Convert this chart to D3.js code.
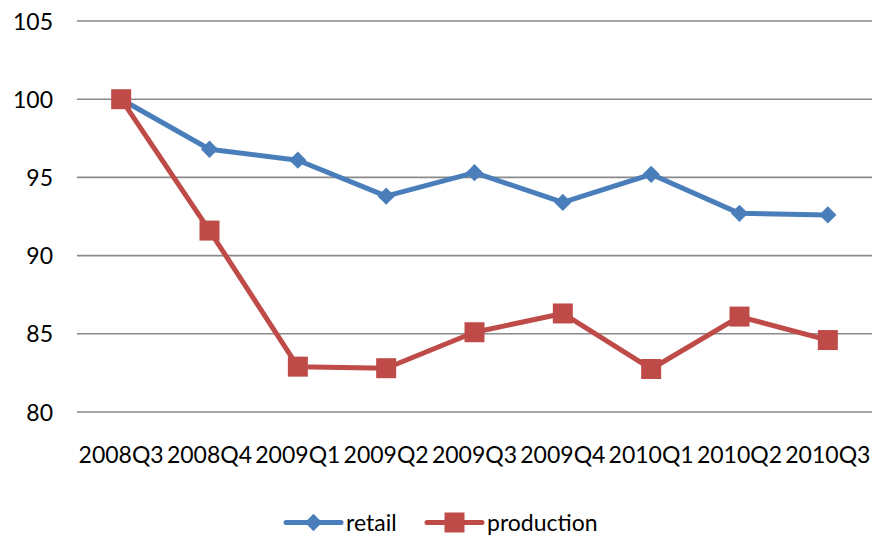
<!DOCTYPE html>
<html><head><meta charset="utf-8">
<script src="https://cdn.jsdelivr.net/npm/d3@7"></script>
<style>
body{margin:0;background:#fff;}
text{font-family:Lato,"Open Sans",sans-serif;fill:#000;}
</style></head>
<body><svg id="c" width="872" height="539"></svg>
<script>
const categories = ["2008Q3","2008Q4","2009Q1","2009Q2","2009Q3","2009Q4","2010Q1","2010Q2","2010Q3"];
const retail = [100, 96.8, 96.1, 93.8, 95.3, 93.4, 95.2, 92.7, 92.6];
const production = [100, 91.6, 82.9, 82.8, 85.1, 86.3, 82.75, 86.1, 84.6];
const yTicks = [80, 85, 90, 95, 100, 105];
const seriesNames = ["retail", "production"];

const svg = d3.select("#c");
const pLeft = 77, pRight = 872, pTop = 21, pBottom = 412;
const x = d3.scaleBand().domain(categories).range([pLeft, pRight]);
const y = d3.scaleLinear().domain([80, 105]).range([pBottom, pTop]);
const fs = 23;

// gridlines
svg.append("g").selectAll("line").data(yTicks).join("line")
  .attr("x1", pLeft).attr("x2", pRight)
  .attr("y1", d => y(d)).attr("y2", d => y(d))
  .attr("stroke", "#8a8a8a").attr("stroke-width", 1.6);

// y axis labels
const yAxis = d3.axisLeft(y).tickValues(yTicks).tickSize(0).tickPadding(0);
const yg = svg.append("g").attr("transform", `translate(${pLeft - 24},0)`).call(yAxis);
yg.select(".domain").remove();
yg.selectAll("text").style("font-size", fs + "px").style("font-family", "Lato").attr("fill", "#000").attr("dy", "0.35em");

// x axis labels
const xAxis = d3.axisBottom(x).tickSize(0).tickPadding(0);
const xg = svg.append("g").attr("transform", `translate(0,${pBottom + 43})`).call(xAxis);
xg.select(".domain").remove();
xg.selectAll("text").style("font-size", fs + "px").style("font-family", "Lato").attr("fill", "#000").attr("dy", "0.35em");

const cx = d => x(d) + x.bandwidth() / 2;
const line = d3.line().x((d, i) => cx(categories[i])).y(d => y(d));

const colors = {retail: "#4a7ebb", production: "#be4b48"};
const diamond = d3.symbol().type(d3.symbolDiamond2).size(190);
const square = d3.symbol().type(d3.symbolSquare).size(400);

function drawSeries(vals, color, sym) {
  svg.append("path").datum(vals).attr("d", line)
    .attr("fill", "none").attr("stroke", color).attr("stroke-width", 5).attr("stroke-linejoin", "round");
  svg.append("g").selectAll("path").data(vals).join("path")
    .attr("d", sym)
    .attr("transform", (d, i) => `translate(${cx(categories[i])},${y(d)})`)
    .attr("fill", color);
}
drawSeries(retail, colors.retail, diamond);
drawSeries(production, colors.production, square);

// legend
const legend = [
  {name: seriesNames[0], x0: 286, color: colors.retail, sym: diamond},
  {name: seriesNames[1], x0: 427, color: colors.production, sym: square}
];
const ly = 522.5;
legend.forEach(l => {
  const g = svg.append("g");
  g.append("line").attr("x1", l.x0).attr("x2", l.x0 + 55).attr("y1", ly).attr("y2", ly)
    .attr("stroke", l.color).attr("stroke-width", 5).attr("stroke-linecap", "round");
  g.append("path").attr("d", l.sym).attr("transform", `translate(${l.x0 + 27.5},${ly})`).attr("fill", l.color);
  g.append("text").attr("x", l.x0 + 60).attr("y", ly).attr("dy", "0.35em")
    .style("font-size", fs + "px").text(l.name);
});
</script></body></html>
